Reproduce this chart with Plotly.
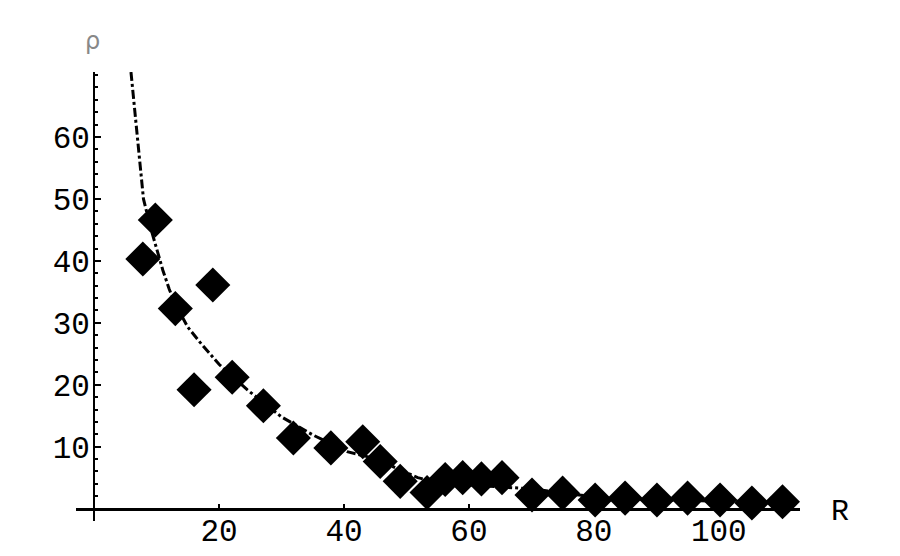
import plotly.graph_objects as go

# measured data points (diamonds)
R_pts = [7.8, 9.8, 13.0, 16.0, 19.0, 22.1, 27.1, 31.9, 37.9, 43.0, 45.8, 49.0,
         53.3, 56.2, 59.0, 62.0, 65.3, 70.1, 75.0, 80.2, 85.0, 90.1, 95.0,
         100.2, 105.3, 110.2]
rho_pts = [40.3, 46.6, 32.3, 19.2, 36.1, 21.2, 16.6, 11.4, 9.8, 10.8, 7.6, 4.4,
           2.6, 4.7, 5.0, 4.8, 5.0, 2.2, 2.5, 1.4, 1.7, 1.4, 1.7, 1.4, 0.9, 1.1]

# fitted curve (dashed)
R_fit = [5.9, 6.9, 7.9, 9.0, 10.0, 11.0, 12.0, 13.0, 15.0, 17.0, 20.0, 24.5,
         30.0, 35.0, 40.5, 44.5, 47.8, 51.8, 55.0, 60.0, 65.0, 70.0, 75.0,
         80.0, 85.0, 90.0, 100.0, 110.0]
rho_fit = [70.5, 60.0, 50.0, 45.5, 42.0, 38.5, 35.5, 33.0, 29.3, 26.8, 23.3,
           19.2, 14.8, 11.9, 9.2, 8.2, 6.8, 5.0, 4.2, 3.8, 3.5, 3.2, 2.5, 1.9,
           1.6, 1.4, 1.2, 1.1]

x_ticks = [20, 40, 60, 80, 100]
y_ticks = [10, 20, 30, 40, 50, 60]
x_range = [-2.9, 113]
y_range = [-2.0, 70.5]

FONT = "Liberation Mono"


def px(v):
    return (v - x_range[0]) / (x_range[1] - x_range[0])


def py(v):
    return (v - y_range[0]) / (y_range[1] - y_range[0])


fig = go.Figure()
fig.add_trace(go.Scatter(
    x=R_fit, y=rho_fit, mode="lines",
    line=dict(color="black", width=3, dash="9px,3px,3px,3px"),
    showlegend=False, hoverinfo="skip"))
fig.add_trace(go.Scatter(
    x=R_pts, y=rho_pts, mode="markers",
    marker=dict(symbol="diamond", size=27, color="black", line=dict(width=0)),
    showlegend=False))

fig.update_layout(
    width=900, height=556,
    margin=dict(l=68, r=108, t=64, b=43, autoexpand=False),
    paper_bgcolor="white", plot_bgcolor="white",
    xaxis=dict(
        range=x_range, showgrid=False, zeroline=False, automargin=False,
        showline=True, linecolor="black", linewidth=3,
        anchor="free", position=py(0),
        tickvals=x_ticks, ticktext=[str(v) for v in x_ticks],
        ticks="inside", ticklen=4, tickwidth=1.5, tickcolor="black",
        tickfont=dict(family=FONT, size=31, color="black"),
        ticklabelstandoff=-7,
    ),
    yaxis=dict(
        range=y_range, showgrid=False, zeroline=False, automargin=False,
        showline=True, linecolor="black", linewidth=2,
        anchor="free", position=px(0),
        tickvals=y_ticks, ticktext=[str(v) for v in y_ticks],
        ticks="inside", ticklen=6, tickwidth=1.5, tickcolor="black",
        minor=dict(ticks="inside", ticklen=3, tickwidth=1.5, dtick=2,
                   tick0=0, tickcolor="black"),
        tickfont=dict(family=FONT, size=31, color="black"),
        ticklabelstandoff=-3,
    ),
    annotations=[
        dict(x=px(119.4), y=py(-0.5), xref="paper", yref="paper", text="R",
             showarrow=False,
             font=dict(family=FONT, size=30, color="black"),
             xanchor="center", yanchor="middle"),
        dict(x=px(-0.3), y=py(75.5), xref="paper", yref="paper", text="ρ",
             showarrow=False,
             font=dict(family="DejaVu Sans", size=24, color="#888888"),
             xanchor="center", yanchor="middle"),
    ],
)

fig.write_html("out.html")
